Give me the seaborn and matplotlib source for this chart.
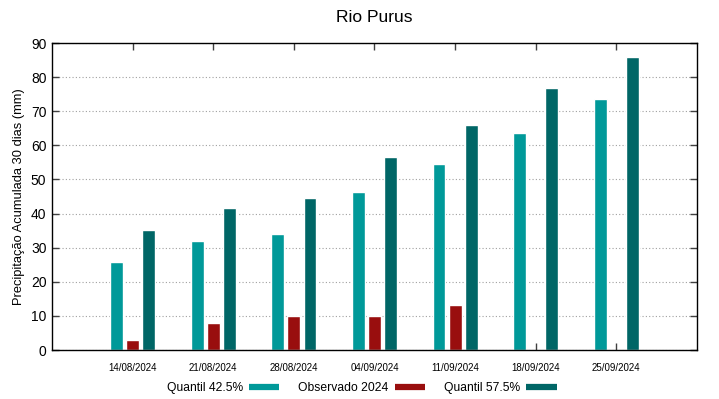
import numpy as np
import pandas as pd
import matplotlib
matplotlib.use('Agg')
import matplotlib.pyplot as plt
import seaborn as sns
from matplotlib.lines import Line2D

datas = ['14/08/2024', '21/08/2024', '28/08/2024', '04/09/2024',
         '11/09/2024', '18/09/2024', '25/09/2024']
q425 = [25.9, 32.0, 33.9, 46.2, 54.6, 63.7, 73.6]
obs2024 = [3.0, 7.9, 10.0, 9.9, 13.2, np.nan, np.nan]
q575 = [35.3, 41.6, 44.6, 56.6, 65.9, 76.8, 85.8]

series = ['Quantil 42.5%', 'Observado 2024', 'Quantil 57.5%']
cores = ['#009999', '#990e0e', '#006666']

df = pd.DataFrame({'data': datas, series[0]: q425, series[1]: obs2024, series[2]: q575})
df = df.melt(id_vars='data', var_name='serie', value_name='valor')

sns.set_style('white')
plt.rcParams['font.family'] = ['Liberation Sans', 'DejaVu Sans']
plt.rcParams['text.color'] = 'black'
plt.rcParams['axes.labelcolor'] = 'black'
plt.rcParams['xtick.color'] = 'black'
plt.rcParams['ytick.color'] = 'black'

fig = plt.figure(figsize=(7.19, 3.99), dpi=100)
ax = fig.add_axes([0.0723, 0.1228, 0.8971, 0.7694])

sns.barplot(data=df, x='data', y='valor', hue='serie', order=datas, hue_order=series,
            palette=cores, width=0.6, gap=0.2, saturation=1, legend=False, ax=ax,
            errorbar=None)

ax.set_xlim(-1, 7)
ax.set_ylim(0, 90)
ax.set_yticks(range(0, 91, 10))
ax.yaxis.grid(True, linestyle=(0, (1, 2)), color='#a0a0a0', linewidth=0.8)
ax.set_axisbelow(True)
for s in ax.spines.values():
    s.set_color('black')
    s.set_linewidth(1)
ax.tick_params(axis='both', direction='in', length=5, width=1, color='#404040',
               labelcolor='black', top=True, right=True, bottom=True, left=True)
ax.tick_params(axis='x', labelsize=7, pad=9)
ax.tick_params(axis='y', labelsize=10, pad=4)
ax.set_xlabel('')
ax.set_ylabel('Precipitação Acumulada 30 dias (mm)', fontsize=9.3, labelpad=4)
ax.set_title('Rio Purus', fontsize=12.5, pad=15, color='black')

handles = [Line2D([], [], color=c, linewidth=4.5, solid_capstyle='butt') for c in cores]
ax.legend(handles, series, ncol=3, loc='center', bbox_to_anchor=(0.48, -0.125),
          frameon=False, markerfirst=False, fontsize=8.7, handlelength=2.5,
          handletextpad=0.5, columnspacing=1.6)

fig.savefig('out.png', dpi=100)
